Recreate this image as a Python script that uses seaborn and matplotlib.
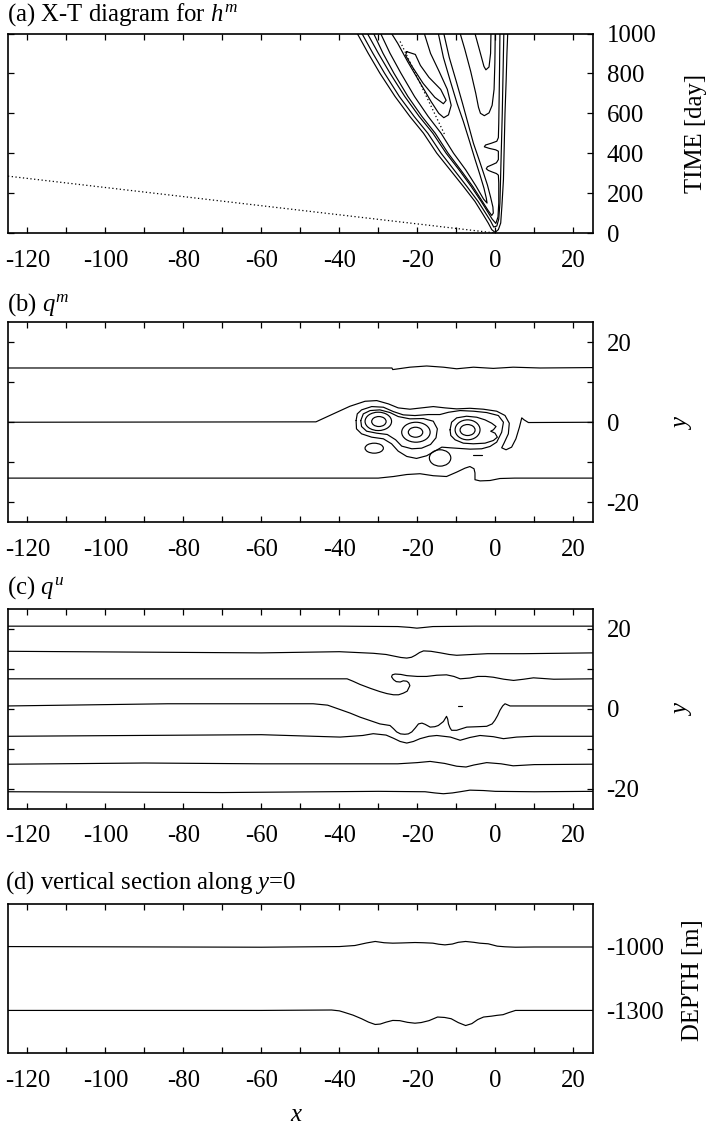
import numpy as np
import pandas as pd
import matplotlib
matplotlib.use("Agg")
import matplotlib.pyplot as plt
from matplotlib.patches import Ellipse
import seaborn as sns

sns.set_theme(style="white")
plt.rcParams["font.family"] = ["Liberation Serif", "DejaVu Serif"]
plt.rcParams["mathtext.fontset"] = "custom"
plt.rcParams["mathtext.rm"] = "Liberation Serif"
plt.rcParams["mathtext.it"] = "Liberation Serif:italic"

# ---------------- data ----------------
x_ticks = list(range(-120, 21, 10))
x_labels = [str(v) if v % 20 == 0 else "" for v in x_ticks]

# (a) X-T diagram contours of h^m  (x, time in days)
a_A_x = [-35.4, -32.6, -29.6, -25.7, -21.9, -18.4, -15.0, -11.6, -8.2, -5.2, -3.1, -1.8, -0.9, -0.05, 0.8, 1.4, 1.7, 2.1, 2.3, 2.5, 2.8, 3.0, 3.2]
a_A_t = [1000, 901, 801, 684, 584, 500, 400, 317, 234, 158, 92, 50, 17, 3, 17, 50, 133, 267, 434, 600, 767, 901, 1000]
a_B_x = [-34.2, -31.4, -28.4, -24.6, -20.8, -17.3, -13.9, -10.6, -7.3, -4.4, -2.5, -1.2, -0.4, 0.4, 0.9, 1.2, 1.4, 1.6, 1.8, 2.0, 2.2]
a_B_t = [1000, 901, 801, 684, 584, 500, 400, 317, 234, 158, 100, 60, 30, 35, 70, 150, 300, 450, 600, 800, 1000]
a_C_x = [-32.8, -30.0, -27.0, -23.2, -19.5, -16.0, -12.6, -9.3, -6.2, -3.6, -2.0, -0.8, 0.15, 0.7, 0.9, 0.9, 0.8, 0.3, -0.8, -1.8, -2.3, -2.0, -0.8, 0.3, 0.8, 0.8, 0.1, -1.5, -2.8, -2.5, -1.0, 0.4, 0.8, 0.9, 1.0, 1.1, 1.2]
a_C_t = [1000, 901, 801, 684, 584, 500, 400, 317, 234, 158, 108, 70, 48, 80, 150, 250, 290, 298, 306, 314, 322, 332, 342, 352, 368, 410, 417, 424, 432, 441, 450, 460, 478, 550, 680, 820, 1000]
a_D_x = [-31.2, -28.8, -26.0, -22.4, -18.8, -15.4, -12.1, -8.9, -5.8, -3.3, -1.8, -0.9, -0.5, -0.6, -1.2, -2.0, -3.0, -4.2, -5.6, -7.0, -8.4, -10.0, -11.8, -13.2]
a_D_t = [1000, 901, 801, 684, 584, 500, 400, 317, 234, 158, 112, 88, 100, 130, 180, 240, 300, 370, 450, 550, 650, 760, 880, 1000]
a_E_x = [-29.4, -27.0, -24.2, -20.7, -17.2, -13.9, -10.7, -7.6, -4.9, -3.0, -2.1, -2.3, -2.9, -3.9, -5.2, -6.6, -8.2, -9.8, -11.5, -13.3, -14.6]
a_E_t = [1000, 901, 801, 684, 584, 500, 400, 317, 234, 170, 150, 175, 225, 290, 370, 460, 560, 650, 760, 880, 1000]
a_F_x = [-26.6, -25.0, -22.5, -19.5, -16.5, -14.5, -13.2, -12.0, -11.3, -12.3, -14.4, -16.6, -18.2]
a_F_t = [1000, 950, 860, 760, 660, 600, 578, 592, 640, 720, 810, 900, 1000]
a_G_x = [-22.7, -20.5, -19.2, -17.0, -14.0, -12.6, -13.3, -15.5, -18.5, -21.5, -23.0, -22.7]
a_G_t = [909, 895, 840, 780, 720, 665, 648, 680, 750, 840, 890, 909]
a_U1_x = [-9.0, -7.8, -6.3, -5.0, -4.3, -3.8, -2.8, -1.6, -0.8, -0.3, -0.1, 0.0]
a_U1_t = [1000, 920, 810, 700, 630, 600, 588, 602, 640, 720, 850, 1000]
a_U2_x = [-5.2, -3.8, -2.9, -2.4, -1.6, -1.2, -1.1]
a_U2_t = [1000, 900, 835, 818, 832, 900, 1000]
a_dot_long_x = [-125, 0]
a_dot_long_t = [285, 0]
a_dot_short_x = [-24.4, -12.9]
a_dot_short_t = [960, 490]

# (b) q^m contours (x, y)
b_top_x = [-125, -26.5, -26.3, -21.9, -17.6, -13.3, -9.9, -5.6, -0.5, 4.6, 11.5, 25]
b_top_y = [13.6, 13.6, 13.2, 13.8, 14.1, 13.8, 13.4, 13.8, 13.5, 13.8, 13.6, 13.7]
b_mid_x = [-125, -46.0, -41.55, -37.3, -33.4, -30.4, -27.4, -24.9, -21.9, -18.9, -15.9, -12.9, -9.9, -6.5, -3.05, 0.37, 2.5, 3.6, 3.36, 2.25, 1.65, 2.77, 4.2, 5.3, 6.2, 6.8, 7.4, 8.5, 25]
b_mid_y = [0, 0.1, 2.1, 4.0, 5.26, 5.43, 4.6, 3.6, 3.27, 3.6, 3.93, 3.6, 3.35, 3.5, 3.27, 2.77, 1.7, -0.24, -2.9, -5.24, -6.4, -6.9, -6.24, -4.15, -1.24, 1.1, 0.6, -0.07, 0]
b_bot_x = [-125, -40, -30, -26.1, -22.7, -19.3, -15.9, -12.5, -9.9, -7.75, -6.5, -5.45, -5.2, -5.2, -3.9, -1.34, 1.2, 5, 25]
b_bot_y = [-14, -14, -14, -13.6, -13.1, -12.9, -13.4, -13.6, -12.5, -11.5, -11.1, -11.65, -12.7, -14.4, -14.7, -14.6, -14.1, -14, -14]
b_env_all_x = [-35.7, -35.4, -34.3, -31.7, -28.7, -26.15, -23.6, -20.6, -17.2, -14.2, -12.0, -9.04, -5.6, -2.2, 0.8, 2.1, 1.65, 0.37, -1.34, -3.48, -6.47, -9.04, -11.6, -13.7, -15.5, -17.6, -20.2, -22.7, -24.9, -26.6, -28.7, -31.7, -34.3, -35.6, -35.7]
b_env_all_y = [0.43, 2.1, 3.1, 3.93, 3.77, 2.68, 1.85, 1.68, 1.93, 1.93, 2.5, 2.93, 2.77, 2.43, 1.68, 0.01, -2.5, -4.99, -6.07, -6.65, -6.74, -6.57, -6.4, -6.24, -7.24, -8.4, -9.07, -8.57, -7.24, -5.4, -4.15, -3.74, -2.9, -1.65, 0.43]
b_env12_x = [-34.5, -33.85, -32.1, -29.6, -27.0, -24.9, -21.9, -18.45, -15.9, -14.85, -15.2, -16.6, -18.9, -21.4, -24.0, -25.55, -27.7, -30.4, -33.0, -34.3, -34.5]
b_env12_y = [0.43, 2.1, 2.93, 3.1, 2.43, 1.43, 0.85, 0.93, 0.26, -1.65, -3.9, -5.57, -6.5, -6.65, -5.98, -4.4, -3.07, -2.74, -2.24, -1.07, 0.43]
b_hook_x = [-11.6, -11.2, -9.9, -7.35, -4.76, -2.62, -0.91, 0.2, -0.48, -1.17, -0.06, 0.54, -0.48, -2.62, -5.62, -8.2, -10.3, -11.4, -11.6]
b_hook_y = [-1.9, 0.01, 1.1, 1.51, 1.26, 0.6, -0.24, -1.07, -1.9, -2.24, -2.74, -3.74, -4.57, -5.24, -5.4, -5.24, -4.4, -3.32, -1.9]
b_dash_x = [-5.6, -3.5]
b_dash_y = [-8.2, -8.2]
b_eddy_x = [-29.85, -30.0, -20.45, -20.35, -7.1, -7.1, -31.05, -14.15]
b_eddy_y = [0.18, 0.22, -2.5, -2.5, -1.95, -1.9, -6.5, -8.95]
b_eddy_w = [3.7, 6.8, 3.7, 7.3, 3.85, 6.4, 4.7, 5.5]
b_eddy_h = [2.5, 4.6, 2.5, 5.0, 2.75, 5.0, 2.5, 4.1]

# (c) q^u contours
c_l1_x = [-125, -40, -25, -22, -20.1, -18, -16, -5, 25]
c_l1_y = [20.7, 20.7, 20.6, 20.4, 20.2, 20.4, 20.6, 20.7, 20.7]
c_l2_x = [-125, -60, -40, -31.3, -28, -26, -24.2, -22.7, -21.5, -20.5, -19.4, -18.4, -16.5, -14, -11.8, -9.9, -6, -2, 7.2, 25]
c_l2_y = [14.4, 14.0, 14.3, 13.9, 13.6, 13.2, 12.85, 12.7, 12.9, 13.4, 14.1, 14.5, 14.4, 14.0, 13.6, 13.4, 13.6, 13.8, 13.8, 14.0]
c_l3_x = [-125, -38, -36.5, -34.7, -32, -29.6, -27.8, -26.1, -24.8, -23.6, -22.6, -22.3, -21.9, -22.2, -22.7, -23.6, -24.4, -25.4, -26.1, -26.6, -26.4, -25.7, -24.2, -22.7, -20, -17.6, -15, -12.5, -10.6, -9.0, -6.5, -4.5, -2.5, -0.5, 2.2, 4.7, 7.3, 9.8, 15, 25]
c_l3_y = [7.5, 7.5, 6.9, 6.1, 5.1, 4.3, 3.8, 3.5, 3.5, 3.9, 4.4, 5.0, 5.8, 6.5, 6.9, 7.0, 6.7, 6.8, 7.3, 8.0, 8.5, 8.7, 8.6, 8.3, 8.1, 8.1, 8.4, 8.5, 8.1, 7.5, 7.7, 8.1, 8.1, 7.9, 7.4, 7.1, 7.4, 7.75, 7.4, 7.5]
c_l4_x = [-125, -84, -46.7, -43, -39.8, -37.2, -34.7, -32, -29.6, -27.0, -26.1, -25.3, -24.3, -23.2, -22.3, -21.4, -20.5, -19.7, -18.8, -18.0, -16.7, -15.5, -14.6, -13.3, -12.5, -12.2, -12.0, -11.6, -11.2, -9.9, -7.3, -4.5, -2.2, -0.8, -0.1, 0.6, 1.2, 1.9, 2.5, 3.8, 8.1, 25]
c_l4_y = [0.7, 1.25, 1.25, 0.9, -0.2, -1.1, -2.1, -3.0, -3.8, -4.2, -5.0, -5.8, -6.3, -6.4, -6.3, -5.8, -4.8, -3.8, -3.6, -3.9, -4.6, -4.5, -4.2, -3.2, -1.9, -2.6, -3.8, -4.8, -5.4, -5.4, -4.6, -4.5, -4.4, -3.8, -2.9, -1.7, -0.4, 0.7, 1.25, 0.7, 0.7, 0.7]
c_l5_x = [-125, -60, -39.8, -34, -31.3, -28, -26.1, -24.4, -22.7, -21, -19.3, -17, -15.0, -11.5, -9.0, -6.5, -3.9, -0.5, 2.1, 5.5, 10, 25]
c_l5_y = [-6.9, -6.5, -7.1, -6.7, -6.25, -6.6, -7.4, -8.2, -8.6, -8.2, -7.5, -6.9, -6.7, -7.1, -7.9, -7.2, -6.7, -7.0, -7.5, -7.1, -6.9, -6.9]
c_l6_x = [-125, -90, -60, -25, -20, -16.7, -13, -9.9, -7.5, -5.5, -2.2, 1.5, 4.6, 10, 25]
c_l6_y = [-13.9, -13.6, -13.8, -13.8, -13.5, -13.2, -13.7, -14.4, -14.6, -14.1, -13.5, -13.8, -14.3, -14.0, -13.9]
c_l7_x = [-125, -70, -30, -18, -15.5, -13.3, -11, -9, -6.5, -3, 0, 10, 25]
c_l7_y = [-20.8, -21.0, -20.7, -20.8, -21.1, -21.3, -21.1, -20.8, -20.4, -20.5, -20.7, -20.8, -20.7]
c_dash_x = [-9.6, -8.6]
c_dash_y = [0.7, 0.7]

# (d) vertical section along y=0
d_up_x = [-125, -60, -40, -36, -33, -30.8, -28.5, -26.3, -24, -20.6, -18.5, -16, -14.5, -12.9, -11, -9.5, -7.6, -5.5, -4, -1.8, 0.5, 2.5, 5.2, 10, 25]
d_up_z = [-1000, -1003, -1000, -995, -983, -976, -982, -984, -983, -981, -982, -984, -989, -992, -988, -980, -976, -980, -984, -987, -998, -1001, -1003, -1002, -1002]
d_lo_x = [-125, -60, -42, -40, -38.9, -36.5, -34.3, -32.5, -30.8, -29.5, -28, -26.3, -24.5, -22.5, -20.6, -19, -17, -14.8, -13, -11.3, -9.5, -7.6, -6, -4.5, -3.0, -1, 0.5, 2, 3.5, 5.2, 10, 25]
d_lo_z = [-1300, -1300, -1298, -1302, -1308, -1322, -1339, -1355, -1366, -1364, -1355, -1347, -1348, -1356, -1360, -1357, -1348, -1331, -1333, -1339, -1357, -1371, -1362, -1343, -1331, -1327, -1323, -1320, -1310, -1300, -1300, -1300]

# ---------------- figure ----------------
W, H = 709, 1128
fig = plt.figure(figsize=(W / 100, H / 100), dpi=100)
LW = 0.85
FS = 17.8


def add_axes(top_px, bot_px):
    left, right = 8.0, 592.7
    return fig.add_axes([left / W, 1 - bot_px / H, (right - left) / W, (bot_px - top_px) / H])


def style(ax, ylim, yticks, ylabels):
    ax.set_xlim(-125, 25)
    ax.set_ylim(*ylim)
    ax.set_xticks(x_ticks)
    ax.set_xticklabels(x_labels)
    ax.set_yticks(yticks)
    ax.set_yticklabels(ylabels)
    ax.tick_params(direction="in", top=True, bottom=True, left=True, right=True,
                   labelleft=False, labelright=True, length=4, width=0.9,
                   labelsize=FS, colors="black")
    ax.tick_params(axis="x", pad=12)
    ax.tick_params(axis="y", pad=10)
    for s in ax.spines.values():
        s.set_color("black")
        s.set_linewidth(1.2)
    ax.set_xlabel("")
    ax.set_ylabel("")
    ax.grid(False)


def line(ax, xs, ys, ls="-", lw=LW):
    sns.lineplot(x=xs, y=ys, sort=False, estimator=None, ax=ax, color="black",
                 linewidth=lw, linestyle=ls, legend=False)


# (a)
ax_a = add_axes(33.5, 233.0)
for xs, ts in [(a_A_x, a_A_t), (a_B_x, a_B_t), (a_C_x, a_C_t), (a_D_x, a_D_t),
               (a_E_x, a_E_t), (a_F_x, a_F_t), (a_G_x, a_G_t), (a_U1_x, a_U1_t),
               (a_U2_x, a_U2_t)]:
    line(ax_a, xs, ts)
line(ax_a, a_dot_long_x, a_dot_long_t, ls=(0, (1, 2)), lw=0.9)
line(ax_a, a_dot_short_x, a_dot_short_t, ls=(0, (1, 2)), lw=0.9)
style(ax_a, (0, 1000), [0, 200, 400, 600, 800, 1000], ["0", "200", "400", "600", "800", "1000"])

# (b)
ax_b = add_axes(322.5, 522.0)
for xs, ys in [(b_top_x, b_top_y), (b_mid_x, b_mid_y), (b_bot_x, b_bot_y),
               (b_env_all_x, b_env_all_y), (b_env12_x, b_env12_y),
               (b_hook_x, b_hook_y), (b_dash_x, b_dash_y)]:
    line(ax_b, xs, ys)
for cx, cy, w, h in zip(b_eddy_x, b_eddy_y, b_eddy_w, b_eddy_h):
    ax_b.add_patch(Ellipse((cx, cy), w, h, fill=False, ec="black", lw=LW))
style(ax_b, (-25, 25), [-20, -10, 0, 10, 20], ["-20", "", "0", "", "20"])

# (c)
ax_c = add_axes(609.0, 808.5)
for xs, ys in [(c_l1_x, c_l1_y), (c_l2_x, c_l2_y), (c_l3_x, c_l3_y), (c_l4_x, c_l4_y),
               (c_l5_x, c_l5_y), (c_l6_x, c_l6_y), (c_l7_x, c_l7_y), (c_dash_x, c_dash_y)]:
    line(ax_c, xs, ys)
style(ax_c, (-25, 25), [-20, -10, 0, 10, 20], ["-20", "", "0", "", "20"])

# (d)
ax_d = add_axes(904.0, 1053.0)
line(ax_d, d_up_x, d_up_z)
line(ax_d, d_lo_x, d_lo_z)
style(ax_d, (-1500, -800), [-1300, -1000], ["-1300", "-1000"])
ax_d.tick_params(axis="y", length=0)

# texts
def ftext(x, y, s, **kw):
    fig.text(x / W, 1 - y / H, s, fontsize=FS, color="black", **kw)

ftext(7, 15, "(a) X-T diagram for $h^m$", ha="left", va="center")
ftext(7, 305, "(b) $q^m$", ha="left", va="center")
ftext(7, 588, "(c) $q^u$", ha="left", va="center")
ftext(5, 883, "(d) vertical section along $y$=0", ha="left", va="center")
ftext(696, 133, "TIME [day]", rotation=90, ha="center", va="center")
ftext(683, 422, "$y$", rotation=90, ha="center", va="center")
ftext(683, 708, "$y$", rotation=90, ha="center", va="center")
ftext(693, 980, "DEPTH [m]", rotation=90, ha="center", va="center")
ftext(297, 1115, "$x$", ha="center", va="center")

fig.savefig("out.png", dpi=100, facecolor="white")
